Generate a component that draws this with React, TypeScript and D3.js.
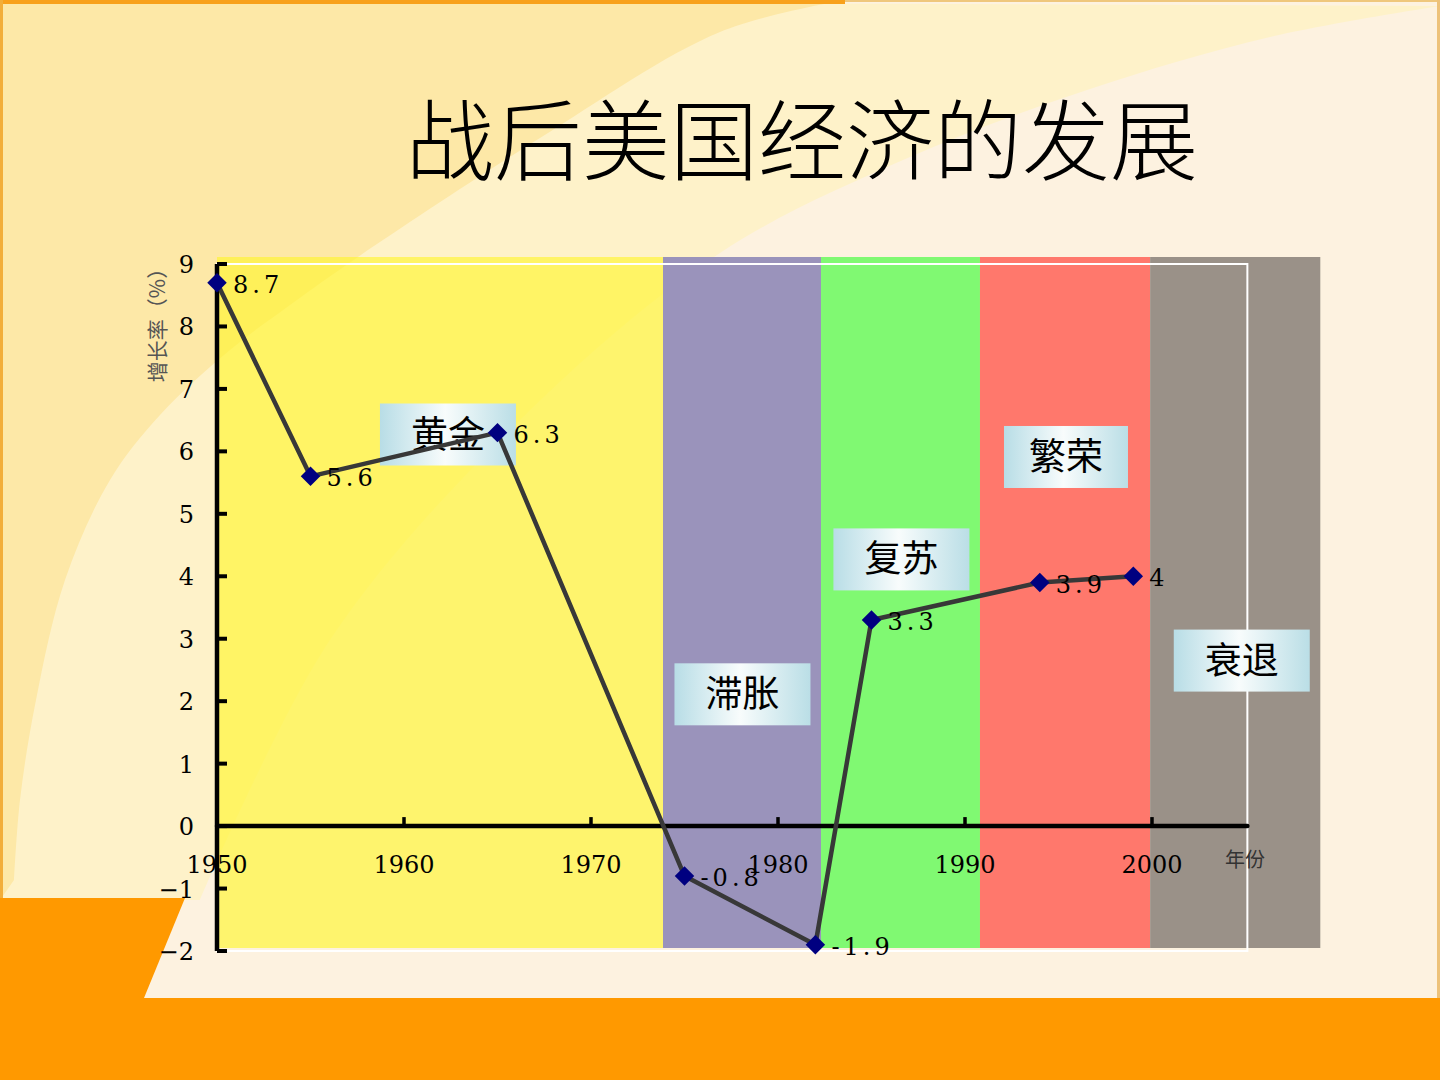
import React, { useEffect, useRef } from "react";
import * as d3 from "d3";

// US annual GDP growth (%) after WWII
const years = [1950, 1955, 1965, 1975, 1982, 1985, 1994, 1999];
const growth = [8.7, 5.6, 6.3, -0.8, -1.9, 3.3, 3.9, 4];

const yTicks = [-2, -1, 0, 1, 2, 3, 4, 5, 6, 7, 8, 9];
const xTicks = [1950, 1960, 1970, 1980, 1990, 2000];

// economic phases, spans in years
const phaseNames = ["黄金", "滞胀", "复苏", "繁荣", "衰退"];
const phaseStart = [1950, 1973.85, 1982.3, 1990.8, 1999.9];
const phaseEnd = [1973.85, 1982.3, 1990.8, 1999.9, 2009];

const phaseColors = ["#FFF530", "#9A93BB", "#80F972", "#FF786C", "#9A9188"];
// where each phase tag sits, as [year, value]
const tagAt = [
  [1962.35, 6.27],
  [1978.1, 2.11],
  [1986.6, 4.27],
  [1995.4, 5.91],
  [2004.8, 2.65],
];

const W = 1440;
const H = 1080;

export default function App() {
  const ref = useRef<SVGSVGElement>(null);

  useEffect(() => {
    const svg = d3.select(ref.current);
    svg.selectAll("*").remove();

    const x = d3.scaleLinear().domain([1950, 2000]).range([217, 1152]);
    const y = d3.scaleLinear().domain([-2, 9]).range([951, 264]);

    const defs = svg.append("defs");
    const grad = defs
      .append("linearGradient")
      .attr("id", "tagFill")
      .attr("x1", "0%")
      .attr("x2", "100%");
    grad.append("stop").attr("offset", "0%").attr("stop-color", "#B8DDE6");
    grad.append("stop").attr("offset", "48%").attr("stop-color", "#F8FCFC");
    grad.append("stop").attr("offset", "100%").attr("stop-color", "#BADEE6");

    // slide background
    svg.append("rect").attr("width", W).attr("height", H).attr("fill", "#FDF2E0");

    const curve = d3.line().curve(d3.curveCatmullRom);
    const lightEdge: [number, number][] = [
      [1440, 6], [1270, 37], [1087, 90], [903, 160], [720, 253],
      [520, 420], [330, 640], [200, 900],
    ];
    svg
      .append("path")
      .attr("d", "M0,0" + curve(lightEdge)!.replace("M", "L") + "L0,900Z")
      .attr("fill", "#FEF2C9");

    const darkEdge: [number, number][] = [
      [845, 0], [720, 32], [540, 138], [358, 257], [290, 305], [230, 350],
      [160, 415], [110, 480], [65, 580], [36, 700], [20, 800], [14, 880],
    ];
    svg
      .append("path")
      .attr("d", "M0,0" + curve(darkEdge)!.replace("M", "L") + "L0,900Z")
      .attr("fill", "#FDE8A7");

    // orange frame pieces
    svg.append("rect").attr("x", 0).attr("y", 0).attr("width", 845).attr("height", 4).attr("fill", "#F8A11C");
    svg.append("rect").attr("x", 845).attr("y", 0).attr("width", W - 845).attr("height", 2).attr("fill", "#EFC77C");
    svg.append("rect").attr("x", 0).attr("y", 0).attr("width", 3).attr("height", H).attr("fill", "#F2AE3A");
    svg.append("rect").attr("x", W - 3).attr("y", 0).attr("width", 3).attr("height", H).attr("fill", "#EDC27A");
    svg.append("path").attr("d", "M0,898L185,898L144,998L0,998Z").attr("fill", "#FF9900");
    svg.append("rect").attr("x", 0).attr("y", 998).attr("width", W).attr("height", 82).attr("fill", "#FF9900");

    // title
    svg
      .append("text")
      .attr("x", 802)
      .attr("y", 173)
      .attr("text-anchor", "middle")
      .attr("font-family", "'Noto Sans CJK SC', sans-serif")
      .attr("font-weight", 300)
      .attr("font-size", 88)
      .attr("fill", "#000")
      .text("战后美国经济的发展");

    // phase bands
    const bandTop = y(9) - 7;
    const bandBottom = y(-2) - 3;
    svg
      .append("g")
      .selectAll("rect")
      .data(phaseNames)
      .enter()
      .append("rect")
      .attr("x", (d, i) => x(phaseStart[i]))
      .attr("y", bandTop)
      .attr("width", (d, i) => x(phaseEnd[i]) - x(phaseStart[i]))
      .attr("height", bandBottom - bandTop)
      .attr("fill", (d, i) => phaseColors[i])
      .attr("fill-opacity", (d, i) => (i === 0 ? 0.65 : 1));

    // plot frame
    svg
      .append("rect")
      .attr("x", x(1950))
      .attr("y", y(9))
      .attr("width", x(2005.1) - x(1950))
      .attr("height", y(-2) - y(9))
      .attr("fill", "none")
      .attr("stroke", "#fff")
      .attr("stroke-width", 2);

    // phase tags
    const tags = svg
      .append("g")
      .selectAll("g")
      .data(phaseNames)
      .enter()
      .append("g")
      .attr("transform", (d, i) => `translate(${x(tagAt[i][0])},${y(tagAt[i][1])})`);
    tags
      .append("rect")
      .attr("x", (d, i) => (i === 3 ? -62 : -68))
      .attr("y", -31)
      .attr("width", (d, i) => (i === 3 ? 124 : 136))
      .attr("height", 62)
      .attr("fill", "url(#tagFill)");
    tags
      .append("text")
      .attr("text-anchor", "middle")
      .attr("y", 13)
      .attr("font-family", "'Noto Sans CJK SC', sans-serif")
      .attr("font-size", 37)
      .attr("fill", "#000")
      .text((d) => d);

    // axes
    const axisG = svg.append("g").attr("stroke", "#000");
    axisG
      .append("line")
      .attr("x1", x(1950))
      .attr("x2", x(1950))
      .attr("y1", y(9))
      .attr("y2", y(-2))
      .attr("stroke-width", 4.5);
    axisG
      .selectAll(".ytick")
      .data(yTicks)
      .enter()
      .append("line")
      .attr("x1", x(1950))
      .attr("x2", x(1950) + 10)
      .attr("y1", (d) => y(d))
      .attr("y2", (d) => y(d))
      .attr("stroke-width", 4);
    axisG
      .append("line")
      .attr("x1", x(1950))
      .attr("x2", x(2005.1))
      .attr("y1", y(0))
      .attr("y2", y(0))
      .attr("stroke-width", 4.5)
      .attr("stroke-linecap", "round");
    axisG
      .selectAll(".xtick")
      .data(xTicks.slice(1))
      .enter()
      .append("line")
      .attr("x1", (d) => x(d))
      .attr("x2", (d) => x(d))
      .attr("y1", y(0))
      .attr("y2", y(0) - 9)
      .attr("stroke-width", 3.5);

    const fmt = d3.format("d");
    svg
      .append("g")
      .selectAll("text")
      .data(yTicks)
      .enter()
      .append("text")
      .attr("x", 194)
      .attr("y", (d) => y(d) + 9)
      .attr("text-anchor", "end")
      .attr("font-family", "'DejaVu Serif', serif")
      .attr("font-size", 24)
      .attr("fill", "#000")
      .text((d) => fmt(d));

    svg
      .append("g")
      .selectAll("text")
      .data(xTicks)
      .enter()
      .append("text")
      .attr("x", (d) => x(d))
      .attr("y", 873)
      .attr("text-anchor", "middle")
      .attr("font-family", "'DejaVu Serif', serif")
      .attr("font-size", 24)
      .attr("fill", "#000")
      .text((d) => d);

    svg
      .append("text")
      .attr("transform", "translate(165,320) rotate(-90)")
      .attr("text-anchor", "middle")
      .attr("font-family", "'Noto Sans CJK SC', sans-serif")
      .attr("font-size", 21)
      .attr("fill", "#555")
      .text("增长率（%）");

    svg
      .append("text")
      .attr("x", 1245)
      .attr("y", 867)
      .attr("text-anchor", "middle")
      .attr("font-family", "'Noto Sans CJK SC', sans-serif")
      .attr("font-size", 20)
      .attr("fill", "#333")
      .text("年份");

    // growth line
    const pts = years.map((yr, i) => [x(yr), y(growth[i])] as [number, number]);
    svg
      .append("path")
      .attr("d", d3.line()(pts))
      .attr("fill", "none")
      .attr("stroke", "#383838")
      .attr("stroke-width", 4.5)
      .attr("stroke-linejoin", "round");

    const diamond = d3.symbol().type(d3.symbolSquare).size(190);
    svg
      .append("g")
      .selectAll("path")
      .data(pts)
      .enter()
      .append("path")
      .attr("d", diamond)
      .attr("transform", (d) => `translate(${d[0]},${d[1]}) rotate(45)`)
      .attr("fill", "#000080");

    svg
      .append("g")
      .selectAll("text")
      .data(growth)
      .enter()
      .append("text")
      .attr("x", (d, i) => pts[i][0] + 16)
      .attr("y", (d, i) => pts[i][1] + 10)
      .attr("font-family", "'DejaVu Serif', serif")
      .attr("font-size", 24)
      .attr("letter-spacing", 4)
      .attr("fill", "#000")
      .text((d) => String(d));
  }, []);

  return (
    <div style={{ position: "absolute", left: 0, top: 0 }}>
      <svg ref={ref} width={W} height={H} style={{ display: "block" }} />
    </div>
  );
}
